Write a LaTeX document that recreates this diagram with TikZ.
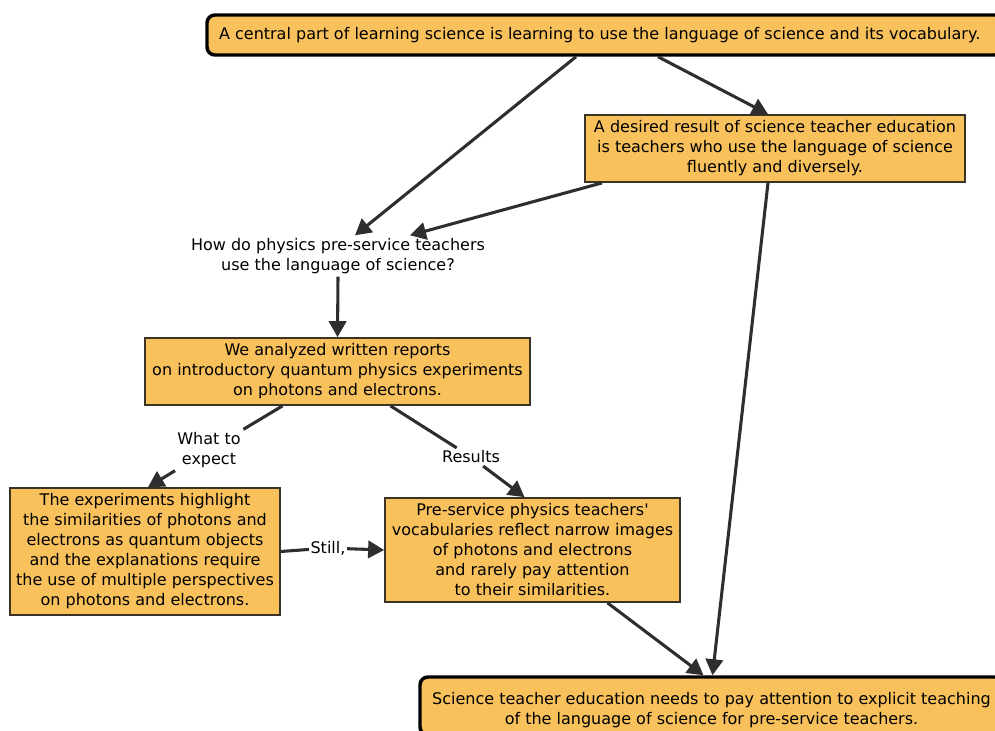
\documentclass[tikz,border=0pt]{standalone}
\usepackage{fontspec}
\setmainfont{DejaVu Sans}
\usetikzlibrary{arrows.meta,calc}
\definecolor{boxfill}{HTML}{F8C15C}
\definecolor{ink}{HTML}{2E2E2E}
\definecolor{edge}{HTML}{3A3326}
\begin{document}
\begin{tikzpicture}[x=0.75pt,y=-0.75pt,
  every node/.style={font=\fontsize{12pt}{15pt}\selectfont, text=black, align=center},
  bigbox/.style={draw=black, line width=2.6pt, fill=boxfill, rounded corners=6pt, inner sep=0pt},
  midbox/.style={draw=edge, line width=1.3pt, fill=boxfill, inner sep=0pt},
  lbl/.style={fill=white, inner sep=2pt},
  conn/.style={draw=ink, line width=2.3pt},
  arr/.style={conn, -{Triangle[length=12pt,width=13pt]}}]
\useasboundingbox (0,0) rectangle (995,731);
\node[bigbox, minimum width=597pt, minimum height=30pt] (top) at (605,35)
  {\hspace*{-3pt}A central part of learning science is learning to use the language of science and its vocabulary.\hspace*{5pt}};
\node[midbox, minimum width=285pt, minimum height=50.25pt] (b2) at (775,148.5)
  {A desired result of science teacher education\\is teachers who use the language of science\\fluently and diversely.};
\node[inner sep=2pt] (q) at (338,256)
  {How do physics pre-service teachers\\use the language of science?};
\node[midbox, minimum width=288.75pt, minimum height=50.25pt] (b3) at (337.5,371.5)
  {We analyzed written reports\\on introductory quantum physics experiments\\on photons and electrons.};
\node[midbox, minimum width=202.5pt, minimum height=95.25pt] (b4) at (145,551.5)
  {The experiments highlight\\the similarities of photons and\\electrons as quantum objects\\and the explanations require\\the use of multiple perspectives\\on photons and electrons.};
\node[midbox, minimum width=221.25pt, minimum height=78pt] (b5) at (532.5,550)
  {Pre-service physics teachers\textquotesingle\\vocabularies reflect narrow images\\of photons and electrons\\and rarely pay attention\\to their similarities.};
\node[bigbox, minimum width=437.25pt, minimum height=43.5pt,
  label={[yshift=-3pt, inner sep=0pt]center:Science teacher education needs to pay attention to explicit teaching\\of the language of science for pre-service teachers.}] (bot) at (711.5,706) {};
\node[lbl] (wte) at (209,450) {What to\\expect};
\node[lbl] (res) at (471,457) {Results};
\node[lbl, inner sep=1pt] (still) at (328,548) {Still,};
% connectors
\draw[arr] ($(top.south)+(-29,0)$) -- ($(q.north)+(17,0)$);
\draw[arr] ($(top.south)+(53,0)$) -- ($(b2.north)+(-7,0)$);
\draw[arr] ($(b2.south west)+(18,0)$) -- ($(q.north)+(72,0)$);
\draw[arr] ($(b2.south)+(-7,0)$) -- ($(bot.north)+(1,0)$);
\draw[arr] (q.south) -- (b3.north);
\draw[conn] ($(b3.south)+(-55,0)$) -- (wte);
\draw[arr] (wte) -- ($(b4.north)+(3,0)$);
\draw[conn] ($(b3.south)+(53,0)$) -- (res);
\draw[arr] (res) -- ($(b5.north)+(-8,0)$);
\draw[conn] (b4.east) -- (still);
\draw[arr] (still) -- (b5.west);
\draw[arr] ($(b5.south)+(75,0)$) -- ($(bot.north)+(-8,0)$);
\end{tikzpicture}
\end{document}
